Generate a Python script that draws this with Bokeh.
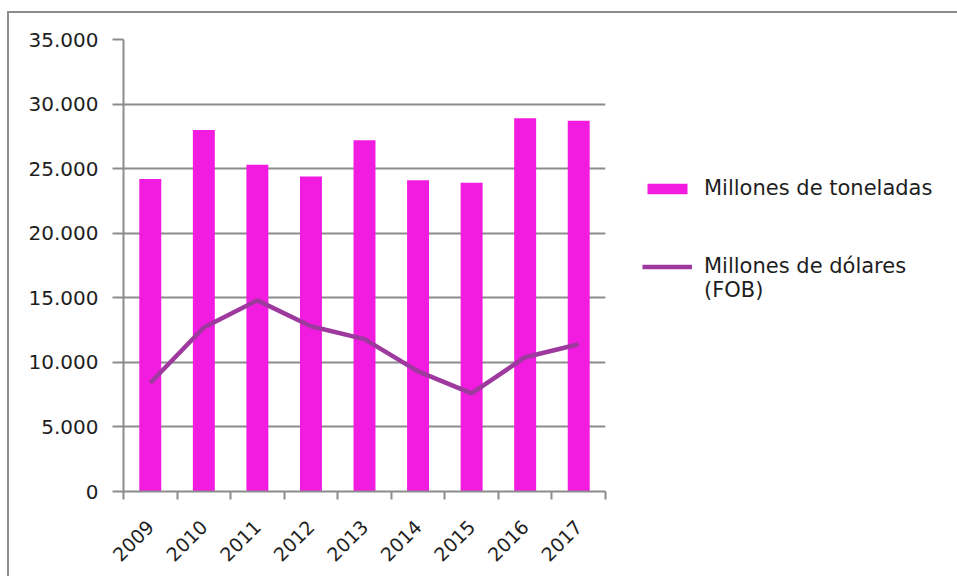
from math import pi
from bokeh.plotting import figure
from bokeh.models import Range1d, FixedTicker, Legend, LegendItem, ColumnDataSource
from bokeh.embed import file_html
from bokeh.resources import INLINE

years = ["2009", "2010", "2011", "2012", "2013", "2014", "2015", "2016", "2017"]
toneladas = [24200, 28000, 25300, 24400, 27200, 24100, 23900, 28900, 28700]
dolares = [8400, 12700, 14800, 12800, 11800, 9300, 7600, 10400, 11400]
y_ticks = [0, 5000, 10000, 15000, 20000, 25000, 30000, 35000]
y_tick_labels = ["0", "5.000", "10.000", "15.000", "20.000", "25.000", "30.000", "35.000"]
legend_labels = ["Millones de toneladas", "Millones de dólares", "(FOB)"]

FONT = "DejaVu Sans"
GRID = "#8c8c8c"
TXT = "#1e1e1e"

xpos = [i + 0.5 for i in range(len(years))]
src = ColumnDataSource(dict(x=xpos, year=years, ton=toneladas, usd=dolares))

p = figure(frame_width=482, frame_height=452, output_backend="svg", toolbar_location=None,
           x_range=Range1d(0, len(years)), y_range=Range1d(0, 35000),
           min_border_left=114, min_border_right=349, min_border_top=26, min_border_bottom=85)
p.styles = {"border-left": "2px solid #8c8c8c", "border-top": "2px solid #8c8c8c",
            "margin-top": "11px", "margin-left": "7px"}
p.outline_line_color = None
p.background_fill_color = "white"
p.border_fill_color = "white"

bars = p.vbar(x="x", top="ton", width=0.41, source=src, fill_color="#F21BE0", line_color=None)
line = p.line(x="x", y="usd", source=src, line_color="#9E3A9E", line_width=4.5)

# x axis
p.xaxis.ticker = FixedTicker(ticks=xpos, minor_ticks=list(range(len(years) + 1)))
p.xaxis.major_label_overrides = {x: y for x, y in zip(xpos, years)}
p.xaxis.major_tick_out = 0
p.xaxis.major_tick_in = 0
p.xaxis.minor_tick_out = 8
p.xaxis.minor_tick_in = 0
p.xaxis.minor_tick_line_color = GRID
p.xaxis.minor_tick_line_width = 2
p.xaxis.axis_line_color = GRID
p.xaxis.axis_line_width = 2
p.xaxis.major_label_orientation = pi / 4
p.xaxis.major_label_text_font = FONT
p.xaxis.major_label_text_font_size = "19px"
p.xaxis.major_label_text_color = TXT
p.xaxis.major_label_standoff = 24

# y axis
p.yaxis.ticker = FixedTicker(ticks=y_ticks, minor_ticks=[])
p.yaxis.major_label_overrides = {t: l for t, l in zip(y_ticks, y_tick_labels)}
p.yaxis.major_tick_out = 11
p.yaxis.major_tick_in = 0
p.yaxis.major_tick_line_color = GRID
p.yaxis.major_tick_line_width = 2
p.yaxis.axis_line_color = GRID
p.yaxis.axis_line_width = 2
p.yaxis.major_label_text_font = FONT
p.yaxis.major_label_text_font_size = "20px"
p.yaxis.major_label_text_color = TXT
p.yaxis.major_label_standoff = 14

p.xgrid.grid_line_color = None
p.ygrid.ticker = FixedTicker(ticks=y_ticks)
p.ygrid.grid_line_color = GRID
p.ygrid.grid_line_width = 2

legend = Legend(items=[LegendItem(label=legend_labels[0], renderers=[bars]),
                       LegendItem(label="\n" + legend_labels[1] + "\n" + legend_labels[2],
                                  renderers=[line])],
                location=(37, 189), orientation="vertical")
legend.border_line_color = None
legend.background_fill_alpha = 0
legend.label_text_font = FONT
legend.label_text_font_size = "21px"
legend.label_text_color = TXT
legend.glyph_width = 50
legend.glyph_height = 13
legend.spacing = 30
legend.label_standoff = 12
legend.padding = 0
legend.margin = 0
p.add_layout(legend, "right")

open("out.html", "w").write(file_html(p, INLINE))
